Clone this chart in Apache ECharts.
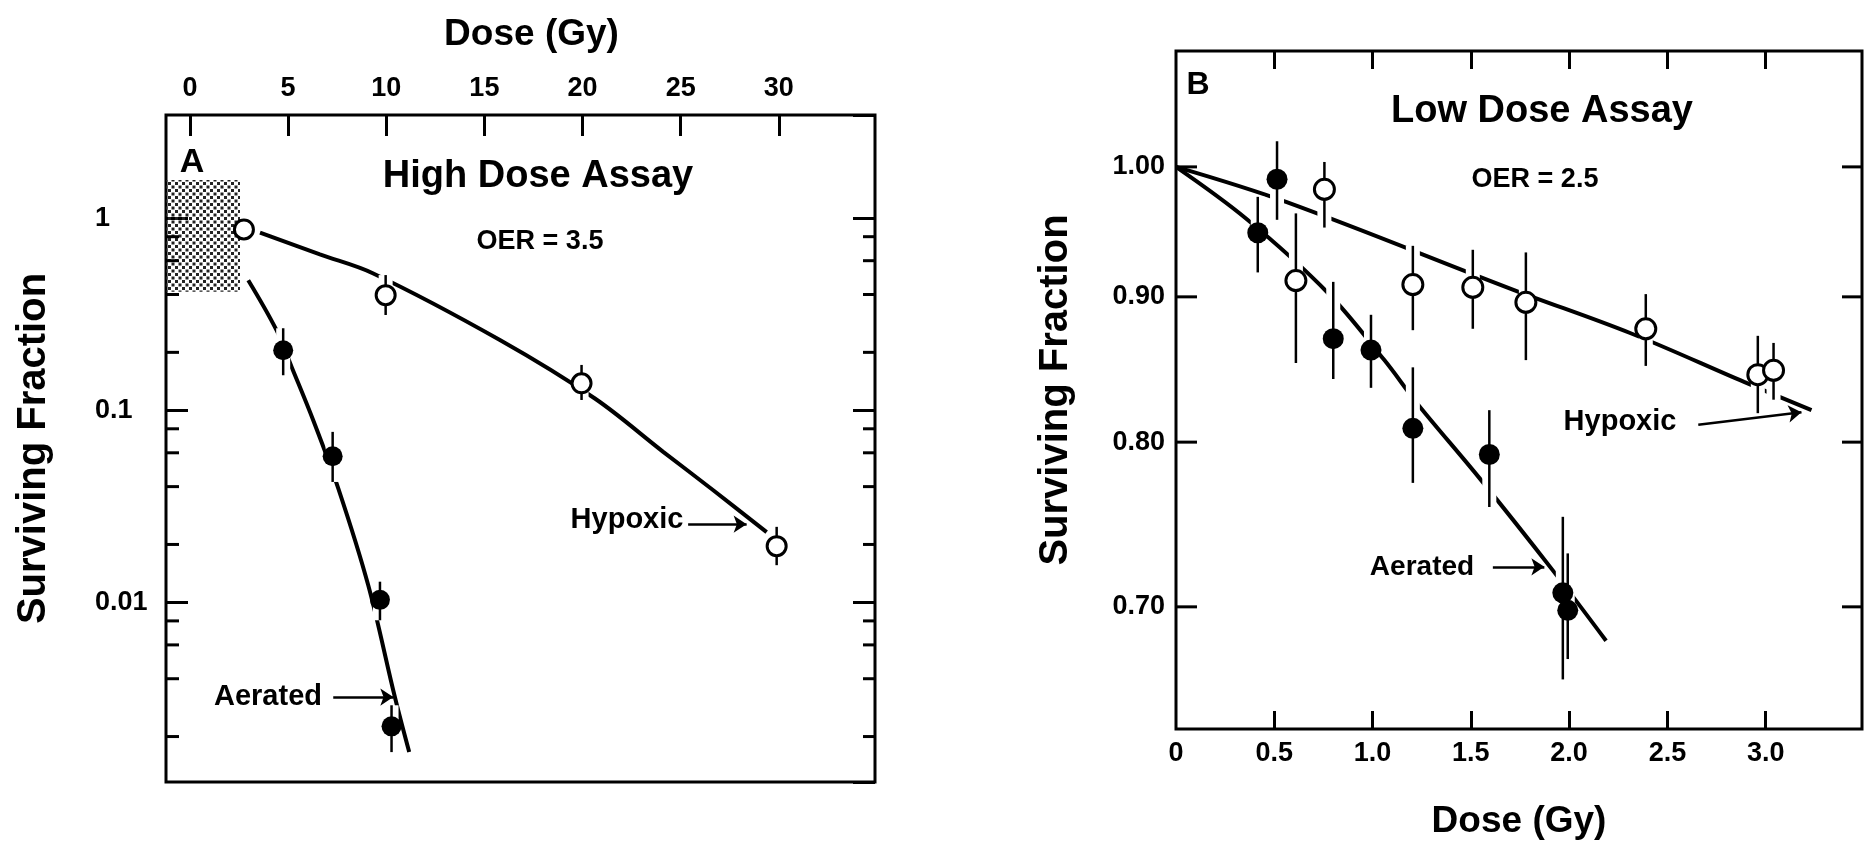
<!DOCTYPE html>
<html>
<head>
<meta charset="utf-8">
<title>Surviving Fraction - High / Low Dose Assay</title>
<script src="https://cdn.jsdelivr.net/npm/echarts@6/dist/echarts.min.js"></script>
<style>
  html, body { margin: 0; padding: 0; background: #fff; }
  #grafico { width: 1872px; height: 846px; }
</style>
</head>
<body>
<div id="grafico"></div>
<script>
// ---- Panel A: High Dose Assay (dose 0-30 Gy, log survival) ----
const dosisTicksA = [0, 5, 10, 15, 20, 25, 30];
const menoresA = [0.8, 0.6, 0.4, 0.2, 0.08, 0.06, 0.04, 0.02, 0.008, 0.006, 0.004, 0.002];

const hipoxA_x  = [2.75, 9.97, 19.95, 29.89];
const hipoxA_y  = [0.873, 0.397, 0.138, 0.0196];
const hipoxA_lo = [0.873, 0.313, 0.113, 0.0156];
const hipoxA_hi = [0.873, 0.505, 0.172, 0.0247];

const aireA_x  = [4.75, 7.27, 9.68, 10.27];
const aireA_y  = [0.205, 0.0576, 0.0103, 0.00226];
const aireA_lo = [0.152, 0.0423, 0.00806, 0.00166];
const aireA_hi = [0.267, 0.0771, 0.0128, 0.00291];

const curvaHipoxA_x = [3.57, 6.62, 9.34, 15.79, 20.63, 24.11, 26.66, 29.38];
const curvaHipoxA_y = [0.839, 0.647, 0.515, 0.232, 0.115, 0.0607, 0.0383, 0.0232];
const curvaAireA_x  = [2.97, 4.41, 5.18, 6.28, 7.56, 9.08, 10.44, 11.17];
const curvaAireA_y  = [0.475, 0.261, 0.168, 0.0887, 0.0391, 0.0123, 0.00321, 0.00166];

// ---- Panel B: Low Dose Assay (dose 0-3 Gy) ----
const dosisTicksB = [0, 0.5, 1.0, 1.5, 2.0, 2.5, 3.0];
const fraccionTicksB = [0.70, 0.80, 0.90, 1.00];

const hipoxB_x  = [0.61, 0.755, 1.205, 1.51, 1.78, 2.39, 2.96, 3.04];
const hipoxB_y  = [0.912, 0.982, 0.909, 0.907, 0.896, 0.877, 0.845, 0.848];
const hipoxB_lo = [0.853, 0.952, 0.876, 0.877, 0.855, 0.851, 0.819, 0.828];
const hipoxB_hi = [0.963, 1.004, 0.938, 0.935, 0.933, 0.902, 0.872, 0.867];

const aireB_x  = [0.416, 0.514, 0.80, 0.992, 1.205, 1.594, 1.968, 1.993];
const aireB_y  = [0.948, 0.990, 0.870, 0.862, 0.809, 0.792, 0.708, 0.698];
const aireB_lo = [0.918, 0.958, 0.842, 0.836, 0.774, 0.759, 0.660, 0.671];
const aireB_hi = [0.976, 1.021, 0.911, 0.887, 0.850, 0.821, 0.753, 0.731];

const curvaHipoxB_x = [0, 0.56, 1.72, 2.31, 2.89, 3.233];
const curvaHipoxB_y = [1.0, 0.972, 0.905, 0.874, 0.840, 0.821];
const curvaAireB_x  = [0, 0.356, 0.772, 1.06, 1.23, 1.544, 1.917, 2.188];
const curvaAireB_y  = [1.0, 0.959, 0.903, 0.855, 0.825, 0.777, 0.721, 0.681];

// rangos de los ejes (bordes del recuadro)
const X_MIN_A = -1.22, X_MAX_A = 34.9, Y_MIN_A = 0.00116, Y_MAX_A = 3.44;
const X_MIN_B = 0, X_MAX_B = 3.49, Y_MIN_B = 0.634, Y_MAX_B = 1.0985;

const FUENTE = "'Liberation Sans', Arial, Helvetica, sans-serif";
const NEGRO = '#000';

const pares = (xs, ys) => xs.map((x, i) => [x, ys[i]]);
const barras = (xs, lo, hi) => xs.map((x, i) => [x, lo[i], hi[i]]);

// patrón punteado para la zona sombreada
const punteado = document.createElement('canvas');
punteado.width = 7; punteado.height = 7;
const ctx = punteado.getContext('2d');
ctx.fillStyle = '#222';
ctx.fillRect(0, 0, 3, 3);
ctx.fillRect(3.5, 3.5, 3, 3);

function barraError(ancho, color) {
    return function (params, api) {
        const p1 = api.coord([api.value(0), api.value(1)]);
        const p2 = api.coord([api.value(0), api.value(2)]);
        return {
            type: 'line',
            shape: { x1: p1[0], y1: p1[1], x2: p2[0], y2: p2[1] },
            style: { stroke: color, lineWidth: ancho, lineCap: 'butt' }
        };
    };
}

function errores(xi, yi, datos, ancho, color, z) {
    return {
        type: 'custom', xAxisIndex: xi, yAxisIndex: yi, silent: true, z: z,
        renderItem: barraError(ancho, color),
        encode: { x: 0, y: [1, 2] },
        data: datos
    };
}

function puntos(xi, yi, datos, abierto, tam) {
    return {
        type: 'scatter', xAxisIndex: xi, yAxisIndex: yi, silent: true, z: 5,
        symbol: 'circle', symbolSize: tam,
        itemStyle: abierto
            ? { color: '#fff', borderColor: NEGRO, borderWidth: 3, opacity: 1 }
            : { color: NEGRO, opacity: 1 },
        data: datos
    };
}

function curva(xi, yi, datos, flecha, extra) {
    const s = {
        type: 'line', xAxisIndex: xi, yAxisIndex: yi, silent: true, z: 2,
        showSymbol: false, smooth: 0.35,
        lineStyle: { color: NEGRO, width: 4 },
        data: datos
    };
    if (flecha) {
        s.markLine = {
            silent: true, symbol: ['none', 'arrow'], symbolSize: 13,
            label: { show: false },
            lineStyle: { color: NEGRO, width: 2.5, type: 'solid', curveness: flecha.curva || 0 },
            data: [[{ coord: flecha.desde }, { coord: flecha.hasta }]]
        };
    }
    return Object.assign(s, extra || {});
}

function marcas(xi, yi, xBorde, valores, largo, lado, conEtiqueta) {
    return {
        type: 'scatter', xAxisIndex: xi, yAxisIndex: yi, silent: true, z: 6, clip: false,
        symbol: 'rect', symbolSize: [largo, 3],
        symbolOffset: [lado === 'izq' ? largo / 2 : -largo / 2, 0],
        itemStyle: { color: NEGRO, opacity: 1 },
        label: conEtiqueta ? {
            show: true, position: 'left', distance: 11, color: NEGRO,
            fontFamily: FUENTE, fontWeight: 'bold', fontSize: 27,
            formatter: p => p.value[1].toFixed(2)
        } : { show: false },
        data: valores.map(v => [xBorde, v])
    };
}

function texto(x, y, txt, tam) {
    return {
        type: 'text', x: x, y: y, silent: true,
        style: {
            text: txt, fill: NEGRO, font: 'bold ' + tam + 'px ' + FUENTE,
            align: 'center', verticalAlign: 'middle',
            textAlign: 'center', textVerticalAlign: 'middle'
        }
    };
}

const estiloEtiqueta = { color: NEGRO, fontFamily: FUENTE, fontWeight: 'bold', fontSize: 27 };
const estiloTitulo = { color: NEGRO, fontFamily: FUENTE, fontWeight: 'bold', fontSize: 38 };
const estiloTick = { color: NEGRO, width: 3 };
const sinLinea = { show: false, onZero: false };

const grafico = echarts.init(document.getElementById('grafico'), null, { renderer: 'canvas' });

grafico.setOption({
    animation: false,
    backgroundColor: '#fff',
    textStyle: { fontFamily: FUENTE },
    grid: [
        { left: 166, top: 115, width: 709, height: 667, show: true, borderColor: NEGRO, borderWidth: 3, backgroundColor: 'transparent' },
        { left: 1176, top: 51, width: 686, height: 678, show: true, borderColor: NEGRO, borderWidth: 3, backgroundColor: 'transparent' }
    ],
    xAxis: [
        {
            gridIndex: 0, type: 'value', position: 'top', min: X_MIN_A, max: X_MAX_A,
            axisLine: sinLinea, splitLine: { show: false },
            axisTick: { inside: true, length: 21, lineStyle: estiloTick, customValues: dosisTicksA },
            axisLabel: Object.assign({ customValues: dosisTicksA, margin: 13 }, estiloEtiqueta),
            name: 'Dose (Gy)', nameLocation: 'middle', nameGap: 62,
            nameTextStyle: Object.assign({ padding: [0, 0, 0, 22] }, estiloTitulo, { fontSize: 37 })
        },
        {
            gridIndex: 1, type: 'value', position: 'bottom', min: X_MIN_B, max: X_MAX_B,
            axisLine: sinLinea, splitLine: { show: false },
            axisTick: { inside: true, length: 18, lineStyle: estiloTick, customValues: dosisTicksB.slice(1) },
            axisLabel: Object.assign({
                customValues: dosisTicksB, margin: 11,
                formatter: v => (v === 0 ? '0' : v.toFixed(1))
            }, estiloEtiqueta),
            name: 'Dose (Gy)', nameLocation: 'middle', nameGap: 74,
            nameTextStyle: Object.assign({}, estiloTitulo, { fontSize: 37 })
        },
        {
            gridIndex: 1, type: 'value', position: 'top', min: X_MIN_B, max: X_MAX_B,
            axisLine: sinLinea, splitLine: { show: false },
            axisTick: { inside: true, length: 18, lineStyle: estiloTick, customValues: dosisTicksB.slice(1) },
            axisLabel: { show: false }
        }
    ],
    yAxis: [
        {
            gridIndex: 0, type: 'log', logBase: 10, min: Y_MIN_A, max: Y_MAX_A, position: 'left',
            axisLine: sinLinea, splitLine: { show: false },
            axisTick: { inside: true, length: 22, lineStyle: estiloTick },
            axisLabel: Object.assign({
                align: 'left', margin: 71, showMinLabel: false, showMaxLabel: false,
                formatter: v => String(parseFloat(Number(v).toPrecision(3)))
            }, estiloEtiqueta),
            name: 'Surviving Fraction', nameLocation: 'middle', nameGap: 112, nameRotate: 90,
            nameTextStyle: Object.assign({}, estiloTitulo, { fontSize: 40 })
        },
        {
            gridIndex: 0, type: 'log', logBase: 10, min: Y_MIN_A, max: Y_MAX_A, position: 'right',
            axisLine: sinLinea, splitLine: { show: false },
            axisTick: { inside: true, length: 22, lineStyle: estiloTick },
            axisLabel: { show: false }
        },
        {
            gridIndex: 1, type: 'log', logBase: 10, min: Y_MIN_B, max: Y_MAX_B, position: 'left',
            axisLine: sinLinea, splitLine: { show: false },
            axisTick: { show: false }, axisLabel: { show: false },
            name: 'Surviving Fraction', nameLocation: 'middle', nameGap: 100, nameRotate: 90,
            nameTextStyle: Object.assign({}, estiloTitulo, { fontSize: 40 })
        }
    ],
    series: [
        // Panel A
        curva(0, 0, pares(curvaHipoxA_x, curvaHipoxA_y),
            { desde: [25.38, 0.0255], hasta: [28.36, 0.0255] },
            {
                markArea: {
                    silent: true,
                    itemStyle: { color: { image: punteado, repeat: 'repeat' } },
                    data: [[{ coord: [X_MIN_A, 1.578] }, { coord: [2.55, 0.413] }]]
                }
            }),
        curva(0, 0, pares(curvaAireA_x, curvaAireA_y),
            { desde: [7.30, 0.00321], hasta: [10.36, 0.00321] }),
        errores(0, 0, barras(hipoxA_x, hipoxA_lo, hipoxA_hi).concat(barras(aireA_x, aireA_lo, aireA_hi)), 14, '#fff', 3),
        errores(0, 0, barras(hipoxA_x, hipoxA_lo, hipoxA_hi).concat(barras(aireA_x, aireA_lo, aireA_hi)), 2.5, NEGRO, 4),
        puntos(0, 0, pares(hipoxA_x, hipoxA_y), true, 19),
        puntos(0, 0, pares(aireA_x, aireA_y), false, 20),
        marcas(0, 0, X_MIN_A, menoresA, 13, 'izq', false),
        marcas(0, 0, X_MAX_A, menoresA, 12, 'der', false),

        // Panel B
        curva(1, 2, pares(curvaHipoxB_x, curvaHipoxB_y),
            { desde: [2.657, 0.8114], hasta: [3.182, 0.8196], curva: 0.2 }),
        curva(1, 2, pares(curvaAireB_x, curvaAireB_y),
            { desde: [1.612, 0.7231], hasta: [1.874, 0.7231] }),
        errores(1, 2, barras(hipoxB_x, hipoxB_lo, hipoxB_hi).concat(barras(aireB_x, aireB_lo, aireB_hi)), 14, '#fff', 3),
        errores(1, 2, barras(hipoxB_x, hipoxB_lo, hipoxB_hi).concat(barras(aireB_x, aireB_lo, aireB_hi)), 2.5, NEGRO, 4),
        puntos(1, 2, pares(hipoxB_x, hipoxB_y), true, 20),
        puntos(1, 2, pares(aireB_x, aireB_y), false, 21),
        marcas(1, 2, X_MIN_B, fraccionTicksB, 21, 'izq', true),
        marcas(1, 2, X_MAX_B, fraccionTicksB, 20, 'der', false)
    ],
    graphic: [
        texto(192, 163, 'A', 34),
        texto(538, 177, 'High Dose Assay', 38),
        texto(540, 242, 'OER = 3.5', 27),
        texto(627, 520, 'Hypoxic', 29),
        texto(268, 697, 'Aerated', 29),
        texto(1198, 85, 'B', 32),
        texto(1542, 112, 'Low Dose Assay', 38),
        texto(1535, 180, 'OER = 2.5', 27),
        texto(1620, 422, 'Hypoxic', 29),
        texto(1422, 567, 'Aerated', 28)
    ]
});

window.addEventListener('resize', function () {
    grafico.resize();
});
</script>
</body>
</html>
